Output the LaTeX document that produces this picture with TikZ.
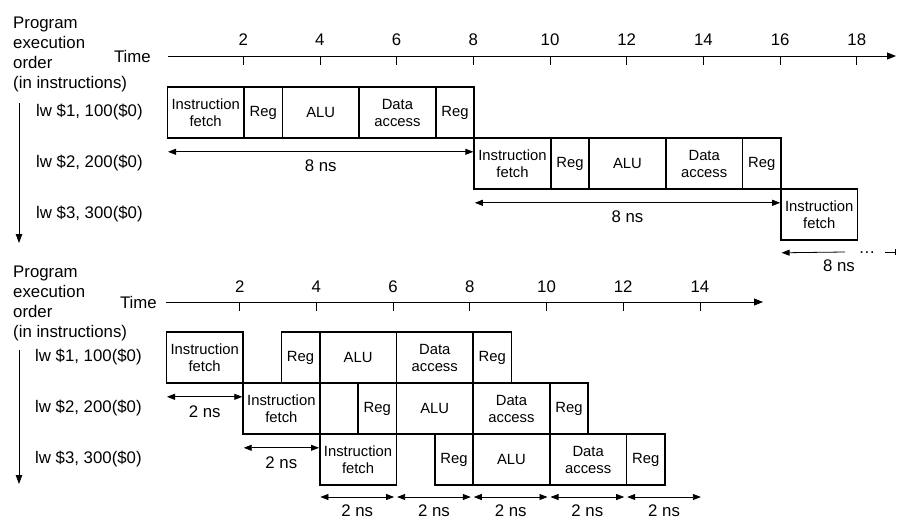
\documentclass[tikz,border=0pt]{standalone}
\usepackage{fontspec}
\setmainfont{Liberation Sans}
\usetikzlibrary{arrows.meta}
\newcommand{\nsw}{38.35}
\tikzset{
  stagebox/.style={draw=black, line width=1.6pt, anchor=west, inner sep=0pt, minimum height=51pt, align=center, font=\fontsize{14.8}{17}\selectfont},
  lbl/.style={inner sep=0pt, font=\fontsize{16.8}{19.8}\selectfont},
  num/.style={lbl},
  axis/.style={draw=black, line width=0.8pt, -{Triangle[length=9pt,width=7pt]}},
  tickmark/.style={draw=black, line width=0.8pt},
  order/.style={draw=black, line width=0.8pt, -{Triangle[length=9pt,width=6.5pt]}},
  dim/.style={draw=black, line width=0.8pt, {Triangle[length=8pt,width=6pt]}-{Triangle[length=8pt,width=6pt]}, shorten <=1.5pt, shorten >=1.5pt},
  dimleft/.style={draw=black, line width=0.8pt, {Triangle[length=8pt,width=6pt]}-, shorten <=1.5pt},
}
\begin{document}
\begin{tikzpicture}[x=1pt, y=-1pt]
  \useasboundingbox (0,0) rectangle (897,520);

  % single-cycle: one instruction every 8 ns
  \node[lbl, align=left, anchor=north west] (progA) at (13,17) {Program\\execution\\order\\(in instructions)};
  \node[lbl, anchor=east] (timeA) at (151,56) {Time};
  \coordinate (axA) at (168,56);
  \coordinate (axAend) at (896,56);
  \draw[axis] (axA) -- (axAend);
  \foreach \t in {2,4,...,18} {
    \draw[tickmark] ({166.5+\nsw*\t},57) -- ++(0,8);
    \node[num] (ta\t) at ({166.5+\nsw*\t},40) {\t};
  }
  \foreach \r/\y/\txt in {1/112.5/{lw \$1, 100(\$0)}, 2/163.5/{lw \$2, 200(\$0)}, 3/214.5/{lw \$3, 300(\$0)}}
    \node[lbl, anchor=west] (insA\r) at (36,\y) {\txt};
  \coordinate (ordA) at (19,103);
  \coordinate (ordAend) at (19,243);
  \draw[order] (ordA) -- (ordAend);

  \foreach \r/\o/\y in {1/0/112.5, 2/8/163.5} {
    \foreach \n/\s/\w/\lab in {if/0/2/{Instruction\\fetch}, rd/2/1/Reg, alu/3/2/ALU, da/5/2/{Data\\access}, wb/7/1/Reg}
      \node[stagebox, minimum width={\w*\nsw*1pt}] (s\r\n) at ({166.5+\nsw*(\o+\s)},\y) {\lab};
  }
  \node[stagebox, minimum width={2*\nsw*1pt}] (s3if) at ({166.5+\nsw*16},214.5) {Instruction\\fetch};

  \draw[dim] ([yshift=-13pt]s1if.south west) -- ([yshift=-13pt]s1wb.south east) node[lbl, midway, below=8pt] (gA1) {8 ns};
  \draw[dim] ([yshift=-13pt]s2if.south west) -- ([yshift=-13pt]s2wb.south east) node[lbl, midway, below=8pt] (gA2) {8 ns};
  \coordinate (gapL) at (845,252);
  \coordinate (gapR) at (885,252);
  \coordinate (gapEnd) at (896,252);
  \draw[dimleft] ([yshift=-12pt]s3if.south west) -- (gapL);
  \node[lbl] (dotsA) at (867,253) {\ldots};
  \draw[line width=0.8pt, -{Bar[width=6pt]}] (gapR) -- (gapEnd);
  \node[lbl] (gA3) at (839,266) {8 ns};

  % pipelined: one instruction every 2 ns
  \node[lbl, align=left, anchor=north west] (progB) at (13,266) {Program\\execution\\order\\(in instructions)};
  \node[lbl, anchor=east] (timeB) at (157,302) {Time};
  \coordinate (axB) at (166,302);
  \coordinate (axBend) at (763,302);
  \draw[axis] (axB) -- (axBend);
  \foreach \t in {2,4,...,14} {
    \draw[tickmark] ({163+\nsw*\t},303) -- ++(0,8);
    \node[num] (tb\t) at ({163+\nsw*\t},287) {\t};
  }
  \foreach \r/\y/\txt in {1/357.5/{lw \$1, 100(\$0)}, 2/408.5/{lw \$2, 200(\$0)}, 3/459.5/{lw \$3, 300(\$0)}}
    \node[lbl, anchor=west] (insB\r) at (35,\y) {\txt};
  \coordinate (ordB) at (19,350);
  \coordinate (ordBend) at (19,484);
  \draw[order] (ordB) -- (ordBend);

  \foreach \r/\o/\y in {1/0/357.5, 2/2/408.5, 3/4/459.5} {
    \foreach \n/\s/\w/\lab in {if/0/2/{Instruction\\fetch}, rd/3/1/Reg, alu/4/2/ALU, da/6/2/{Data\\access}, wb/8/1/Reg}
      \node[stagebox, minimum width={\w*\nsw*1pt}] (p\r\n) at ({165.5+\nsw*(\o+\s)},\y) {\lab};
  }

  \draw[dim] ([yshift=-13pt]p1if.south west) -- ([yshift=-13pt]p1if.south east) node[lbl, midway, below=9pt] (gB1) {2 ns};
  \draw[dim] ([yshift=-13pt]p2if.south west) -- ([yshift=-13pt]p2if.south east) node[lbl, midway, below=9pt] (gB2) {2 ns};
  \foreach \k in {4,6,...,14}
    \coordinate (d\k) at ({165.5+\nsw*\k},497);
  \foreach \a/\b in {4/6, 6/8, 8/10, 10/12, 12/14}
    \draw[dim] (d\a) -- (d\b) node[lbl, midway, below=7pt] (gC\a) {2 ns};
\end{tikzpicture}
\end{document}
